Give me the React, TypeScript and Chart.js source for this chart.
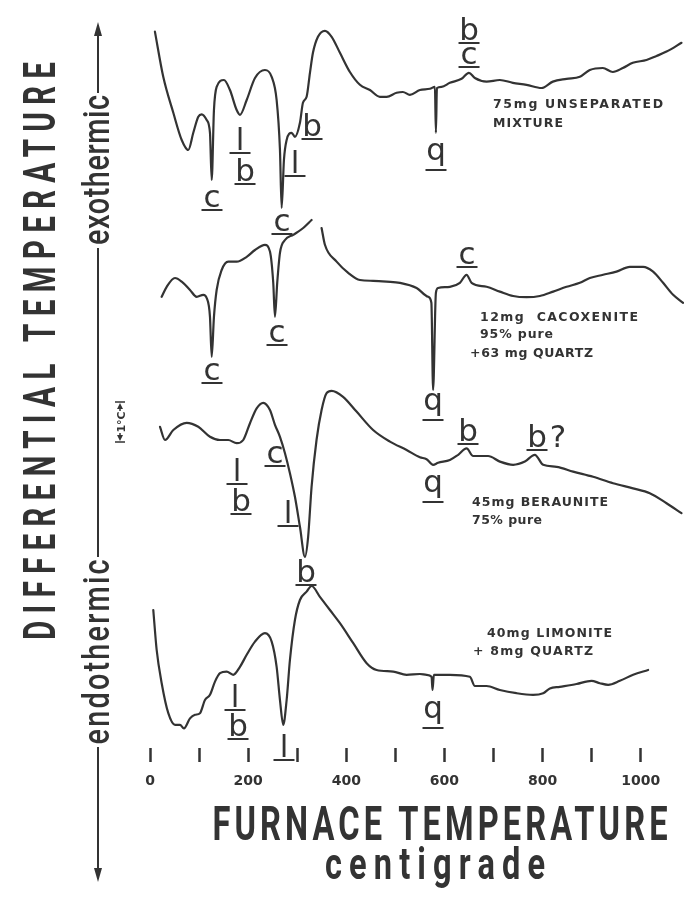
import React, { useEffect, useRef } from "react";
import { Chart, registerables } from "chart.js";

Chart.register(...registerables);

// ---------- data ----------
// Furnace temperature axis (°C)
const X_MIN = 0;
const X_MAX = 1088;
const X_STEP = 100;
const X_LABELLED_TICKS = [0, 200, 400, 600, 800, 1000];

// Differential-temperature axis, arbitrary units (0.1 °C per unit), curves stacked
const Y_MIN = 0;
const Y_MAX = 187;
const ONE_DEGREE_FROM = 76.5;
const ONE_DEGREE_TO = 86.5;

// [furnace °C, deflection]
const unseparatedMixture: [number, number][] = [
  [10, 179.1], [27, 167.8], [47.5, 158.8], [64.6, 152], [78, 149.5], [88.2, 153.8], [98.4, 157.8],
  [105.3, 158.4], [115.5, 157], [122.2, 153.8], [125.7, 142], [130.3, 159.5], [135.8, 165.3],
  [150.7, 167], [162.9, 164.5], [176.6, 159.5], [183.3, 158.3], [197, 162], [213.9, 167.5],
  [234.2, 169.5], [247.9, 167.8], [258, 162], [264.8, 149.5], [268.2, 135], [272.9, 147],
  [278.4, 152], [288.6, 153.8], [295.3, 152.8], [305.5, 156.3], [311.6, 161.3], [319.1, 162.8],
  [325.9, 168.8], [332, 173.8], [342.2, 177.8], [356.4, 179.3], [370.1, 177.8], [387, 173.8],
  [407.3, 169], [427.7, 165.8], [448.1, 164.5], [468.4, 162.8], [482.1, 162.8], [502.4, 163.8],
  [515.3, 164], [529.5, 163.3], [549.9, 164.5], [570.3, 164.8], [580.5, 165.3], [582.5, 153.8],
  [584.6, 165], [594.1, 165.3], [611, 166.3], [634.8, 167.3], [649.7, 168.8], [661.9, 167.5],
  [685.8, 166.6], [712.8, 167], [739.3, 166.3], [767.2, 165.8], [797.8, 165], [820.8, 166.6],
  [848.7, 167.3], [875.8, 167.8], [896.1, 169.5], [922.6, 170], [943, 169], [963.4, 170],
  [983.7, 171.3], [1011.6, 172], [1032, 173], [1052.4, 174.1], [1082.9, 176.3],
];

const cacoxenite: [number, number | null][] = [
  [23.8, 112.8], [34, 115.3], [50.9, 117.5], [64.6, 116.6], [81.5, 114.5], [95.1, 112.8],
  [108.6, 113.3], [115.5, 112.5], [122.2, 107.8], [125.7, 97.8], [130.3, 107.8], [135.8, 114.5],
  [146, 119.5], [159.5, 121.6], [176.6, 121.6], [197, 122.8], [213.9, 124.5], [234.2, 125.8],
  [244.4, 124.1], [251.1, 116.3], [254.6, 107.8], [259.2, 116.3], [264.8, 123.8], [275, 127],
  [291.9, 128.3], [312.2, 130], [329.2, 132], [339, null], [349.6, 130], [356.4, 125.8],
  [380.2, 121.6], [403.8, 118.8], [427.7, 117], [454.8, 116.8], [482.1, 116.6], [509.2, 116.3],
  [543.2, 115], [566.8, 112.8], [573.3, 111.3], [576.8, 89.5], [582.5, 113.8], [587, 115],
  [611, 115.3], [631.4, 116.3], [645, 118.3], [655.2, 116.3], [685.8, 115.3], [712.8, 114.1],
  [739.9, 113], [767.2, 112.7], [794.3, 113], [821.4, 114.1], [848.7, 115.3], [875.8, 116.3],
  [896.1, 117.5], [923.3, 118.3], [950.4, 119.1], [977.6, 120.3], [1004.7, 120.3], [1025, 119.1],
  [1045.4, 116.3], [1065.8, 113.3], [1086.2, 111.3],
];

const beraunite: [number, number][] = [
  [20.4, 80.3], [30.6, 77], [47.5, 79.5], [74.7, 81.3], [98.4, 80.3], [122.2, 77.8], [142.6, 77],
  [159.5, 77], [176.6, 76.2], [190, 77], [203.7, 81.2], [217.3, 84.9], [230.8, 86.3], [244.4, 84.5],
  [254.6, 80.8], [264.8, 77.8], [275, 73.7], [285.1, 68.7], [295.3, 62.8], [305.5, 55.3],
  [315.7, 47.8], [322.2, 52.8], [329.2, 65.3], [339.3, 77], [349.6, 84.5], [359.8, 88.7],
  [370.1, 89.3], [393.4, 87.8], [420.8, 84.1], [454.6, 79.5], [488.8, 76.6], [522.8, 74.5],
  [549.9, 72.7], [563.5, 72.2], [576.8, 70.8], [587, 71.3], [611, 72], [627.9, 73.3], [645, 74.9],
  [658.4, 73], [688.9, 73], [712.8, 71.6], [739.9, 70.8], [763.8, 71.6], [784.1, 73.3], [801, 70.8],
  [828.3, 70.3], [862.1, 69.1], [902.8, 67.8], [943.5, 66.2], [984.2, 64.9], [1018.3, 63.7],
  [1052.4, 61.2], [1082.9, 58.7],
];

const limonite: [number, number][] = [
  [6.7, 34.5], [13.6, 24.5], [23.8, 16.2], [37.3, 8.7], [50.9, 5.8], [61.1, 5.8], [69.2, 4.9],
  [81.5, 7.4], [91.7, 8.3], [101.8, 8.7], [112, 12], [122.2, 13.3], [132.4, 16.6], [142.6, 18.7],
  [156.2, 19.1], [169.5, 18.3], [183.3, 20.3], [197, 23.3], [213.9, 26.6], [234.2, 28.7],
  [247.9, 26.6], [258, 20.3], [264.8, 12], [271.5, 5.8], [278.4, 12], [285.1, 22], [295.3, 32],
  [305.5, 37], [319.1, 39.1], [329.2, 40.5], [346.2, 37.8], [366.6, 34.5], [387, 31.2],
  [414.1, 26.2], [441.4, 21.2], [461.7, 19.5], [495.5, 19.1], [522.8, 18.3], [549.9, 18.5],
  [563.5, 18.3], [573.7, 17.8], [575.6, 14.5], [578.4, 18.3], [611, 18.3], [651.7, 17.8],
  [661.9, 15.5], [685.8, 15.5], [712.8, 14.5], [746.8, 13.7], [780.4, 13.3], [801, 13.7],
  [814.7, 14.9], [835, 15.3], [869, 16], [899.6, 16.8], [916.5, 16.2], [933.5, 15.8],
  [957.3, 16.8], [984.4, 18.3], [1014.9, 19.5],
];

const CURVES = [unseparatedMixture, cacoxenite, beraunite, limonite];
const CURVE_NAMES = ["75mg unseparated mixture", "12mg cacoxenite", "45mg beraunite", "40mg limonite"];

// Peak identifications: c = cacoxenite, b = beraunite, l = limonite, q = quartz
// [text, furnace °C, baseline level, underlined]
const PEAK_LABELS: [string, number, number, boolean][] = [
  ["c", 126.3, 135.25, true], ["l", 183.4, 149.5, true], ["b", 193.6, 141.75, true],
  ["c", 268.9, 129.25, true], ["l", 295.4, 143.75, true], ["b", 330.1, 153, true],
  ["q", 582.7, 147, true], ["b", 650, 177, true], ["c", 650, 171, true],
  ["c", 126.3, 92, true], ["c", 258.8, 101.5, true], ["q", 576.6, 84.5, true], ["c", 645.9, 121, true],
  ["l", 177.3, 66.75, true], ["b", 185.4, 59.25, true], ["c", 254.7, 71.25, true],
  ["l", 281.2, 56.25, true], ["b", 317.8, 41.5, true], ["q", 576.6, 64, true],
  ["b", 647.9, 76.75, true], ["b", 788.5, 75.25, true], ["?", 831.3, 75.25, false],
  ["l", 173.2, 10.25, true], ["b", 179.3, 3, true], ["l", 273, -2.25, true], ["q", 576.6, 7.5, true],
];

// Sample descriptions: [text, left °C, baseline level, width px]
const SAMPLE_TEXT: [string, number, number, number][] = [
  ["75mg UNSEPARATED", 698.9, 160, 170],
  ["MIXTURE", 698.9, 155.25, 70],
  ["12mg  CACOXENITE", 672.4, 106.75, 158],
  ["95% pure", 672.4, 102.5, 73],
  ["+63 mg QUARTZ", 652, 97.75, 123],
  ["45mg BERAUNITE", 656.1, 60.5, 136],
  ["75% pure", 656.1, 56, 70],
  ["40mg LIMONITE", 686.6, 27.75, 125],
  ["+ 8mg QUARTZ", 658.1, 23.25, 120],
];

const Y_TITLE = "DIFFERENTIAL TEMPERATURE";
const EXO = "exothermic";
const ENDO = "endothermic";
const X_TITLE = "FURNACE TEMPERATURE";
const X_SUBTITLE = "centigrade";
const SCALE_TEXT = "1°C";

const INK = "#333333";

// Condensed text (horizontal squeeze sx) spread with letter spacing to fill a width
function condensedText(
  ctx: CanvasRenderingContext2D,
  text: string,
  x: number,
  y: number,
  width: number,
  font: string,
  sx: number,
  rotate: boolean
) {
  ctx.save();
  ctx.font = font;
  (ctx as any).letterSpacing = "0px";
  const w = ctx.measureText(text).width;
  let s = sx;
  let ls = (width / s - w) / Math.max(1, text.length - 1);
  if (ls < 0) {
    ls = 0;
    s = width / w;
  }
  ctx.translate(x, y);
  if (rotate) ctx.rotate(-Math.PI / 2);
  ctx.scale(s, 1);
  (ctx as any).letterSpacing = ls + "px";
  ctx.textAlign = "left";
  ctx.textBaseline = "alphabetic";
  const total = w + ls * (text.length - 1);
  ctx.fillText(text, -total / 2, 0);
  ctx.restore();
}

function spacedText(ctx: CanvasRenderingContext2D, text: string, x: number, y: number, width: number, font: string) {
  ctx.save();
  ctx.font = font;
  (ctx as any).letterSpacing = "0px";
  const w = ctx.measureText(text).width;
  const ls = (width - w) / Math.max(1, text.length - 1);
  ctx.textAlign = "left";
  ctx.textBaseline = "alphabetic";
  if (ls >= 0) {
    (ctx as any).letterSpacing = ls + "px";
    ctx.fillText(text, x, y);
  } else {
    ctx.translate(x, y);
    ctx.scale(width / w, 1);
    ctx.fillText(text, 0, 0);
  }
  ctx.restore();
}

const decorPlugin = {
  id: "decor",
  afterDatasetsDraw(chart: any) {
    const { ctx } = chart;
    const xs = chart.scales.x;
    const ys = chart.scales.y;
    ctx.save();
    ctx.fillStyle = INK;
    ctx.strokeStyle = INK;

    // peak letters
    ctx.font = '31px "DejaVu Sans"';
    ctx.textAlign = "center";
    ctx.textBaseline = "alphabetic";
    for (const [text, t, v, ul] of PEAK_LABELS) {
      const px = xs.getPixelForValue(t);
      const py = ys.getPixelForValue(v);
      ctx.fillText(text, px, py);
      if (ul) {
        const off = text === "q" ? 10 : 3;
        ctx.lineWidth = 2;
        ctx.beginPath();
        ctx.moveTo(px - 10.5, py + off);
        ctx.lineTo(px + 10.5, py + off);
        ctx.stroke();
      }
    }

    // sample descriptions
    for (const [text, t, v, w] of SAMPLE_TEXT) {
      spacedText(ctx, text, xs.getPixelForValue(t), ys.getPixelForValue(v), w, 'bold 12.5px "DejaVu Sans"');
    }

    // 1 °C scale marker
    const mx = 120;
    const y1 = ys.getPixelForValue(ONE_DEGREE_TO);
    const y2 = ys.getPixelForValue(ONE_DEGREE_FROM);
    const ym = (y1 + y2) / 2;
    ctx.lineWidth = 1.5;
    ctx.beginPath();
    ctx.moveTo(mx - 5, y1); ctx.lineTo(mx + 5, y1);
    ctx.moveTo(mx - 5, y2); ctx.lineTo(mx + 5, y2);
    ctx.moveTo(mx, y1 + 3); ctx.lineTo(mx, ym - 11);
    ctx.moveTo(mx, ym + 11); ctx.lineTo(mx, y2 - 3);
    ctx.stroke();
    ctx.beginPath();
    ctx.moveTo(mx, y1 + 1); ctx.lineTo(mx - 3, y1 + 7); ctx.lineTo(mx + 3, y1 + 7); ctx.closePath();
    ctx.moveTo(mx, y2 - 1); ctx.lineTo(mx - 3, y2 - 7); ctx.lineTo(mx + 3, y2 - 7); ctx.closePath();
    ctx.fill();
    ctx.save();
    ctx.translate(mx + 4.5, ym);
    ctx.rotate(-Math.PI / 2);
    ctx.font = 'bold 11px "DejaVu Sans"';
    ctx.textAlign = "center";
    ctx.fillText(SCALE_TEXT, 0, 0);
    ctx.restore();
    ctx.restore();
  },
  afterDraw(chart: any) {
    const { ctx } = chart;
    ctx.save();
    ctx.fillStyle = INK;
    ctx.strokeStyle = INK;

    // vertical axis title
    condensedText(ctx, Y_TITLE, 55, 351, 578, 'bold 45px Roboto, "DejaVu Sans", sans-serif', 0.66, true);

    // exothermic / endothermic arrow
    const ax = 98;
    condensedText(ctx, EXO, 109, 170, 150, '500 37px Roboto, "DejaVu Sans", sans-serif', 0.78, true);
    condensedText(ctx, ENDO, 109, 652, 185, '500 37px Roboto, "DejaVu Sans", sans-serif', 0.78, true);
    ctx.lineWidth = 2;
    ctx.beginPath();
    ctx.moveTo(ax, 34); ctx.lineTo(ax, 93);
    ctx.moveTo(ax, 248); ctx.lineTo(ax, 557);
    ctx.moveTo(ax, 747); ctx.lineTo(ax, 870);
    ctx.stroke();
    ctx.beginPath();
    ctx.moveTo(ax, 22); ctx.lineTo(ax - 4, 36); ctx.lineTo(ax + 4, 36); ctx.closePath();
    ctx.moveTo(ax, 882); ctx.lineTo(ax - 4, 868); ctx.lineTo(ax + 4, 868); ctx.closePath();
    ctx.fill();

    // horizontal axis title
    condensedText(ctx, X_TITLE, 440, 840, 455, 'bold 48px Roboto, "DejaVu Sans", sans-serif', 0.68, false);
    condensedText(ctx, X_SUBTITLE, 435, 879, 220, 'bold 44px Roboto, "DejaVu Sans", sans-serif', 0.74, false);
    ctx.restore();
  },
};

export default function App() {
  const ref = useRef<HTMLCanvasElement | null>(null);

  useEffect(() => {
    if (!ref.current) return;
    const chart = new Chart(ref.current, {
      type: "line",
      data: {
        datasets: CURVES.map((c, i) => ({
          label: CURVE_NAMES[i],
          data: c.map(([t, v]) => ({ x: t, y: v })),
          borderColor: INK,
          borderWidth: 2.2,
          pointRadius: 0,
          fill: false,
          spanGaps: false,
          cubicInterpolationMode: "monotone" as const,
          borderJoinStyle: "round" as const,
          borderCapStyle: "round" as const,
        })),
      },
      options: {
        animation: false,
        responsive: false,
        devicePixelRatio: 1,
        layout: { padding: { left: 150, right: 0, top: 0, bottom: 0 } },
        plugins: { legend: { display: false }, tooltip: { enabled: false } },
        events: [],
        scales: {
          x: {
            type: "linear",
            min: X_MIN,
            max: X_MAX,
            afterFit: (s: any) => {
              s.height = 154;
            },
            border: { display: false },
            grid: {
              display: true,
              drawOnChartArea: false,
              drawTicks: true,
              tickLength: 14,
              tickWidth: 2.5,
              tickColor: INK,
            },
            ticks: {
              stepSize: X_STEP,
              includeBounds: false,
              autoSkip: false,
              maxRotation: 0,
              padding: 11,
              color: INK,
              font: { family: '"DejaVu Sans"', size: 14, weight: "bold" },
              callback: (v: any) => (X_LABELLED_TICKS.includes(Number(v)) ? String(v) : ""),
            },
          },
          y: {
            type: "linear",
            display: false,
            min: Y_MIN,
            max: Y_MAX,
          },
        },
      },
      plugins: [decorPlugin],
    } as any);
    return () => chart.destroy();
  }, []);

  return (
    <div style={{ position: "absolute", left: 0, top: 0, width: 684, height: 902, background: "#fff" }}>
      <canvas ref={ref} width={684} height={902} style={{ display: "block", width: 684, height: 902 }} />
    </div>
  );
}
